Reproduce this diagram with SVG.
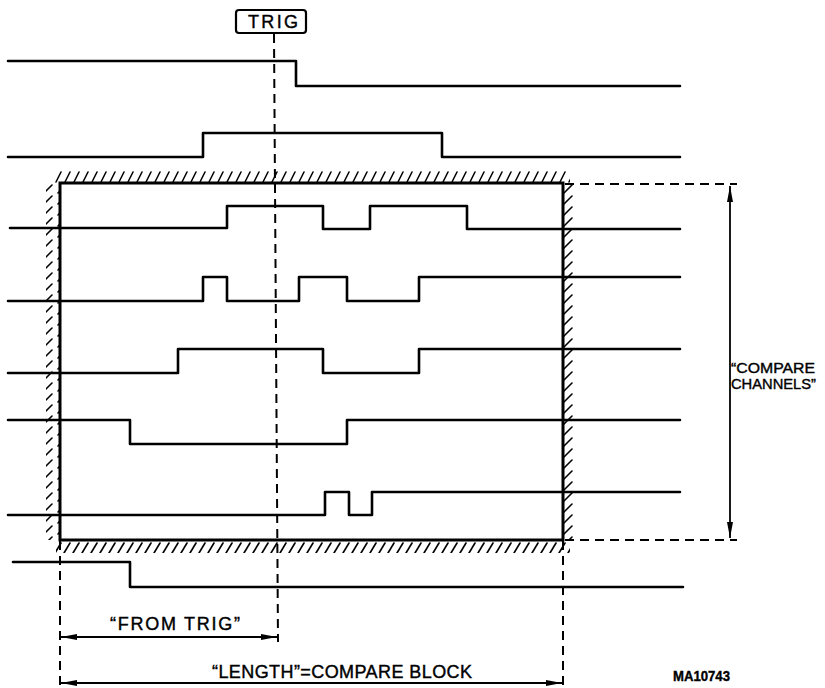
<svg xmlns="http://www.w3.org/2000/svg" width="825" height="688" viewBox="0 0 825 688">
<style>
.wave{fill:none;stroke:#000;stroke-width:2.6;stroke-linejoin:round;stroke-linecap:round}
.dash{fill:none;stroke:#000;stroke-width:2;stroke-dasharray:9 6}
.dim{fill:none;stroke:#000;stroke-width:1.8}
.lbl{font-family:"Liberation Sans",Arial,sans-serif;fill:#000;stroke:#000;stroke-width:0.4}
.hatch{stroke:#000;stroke-width:1.6;fill:none;stroke-linecap:round}
</style>
<defs>
<marker id="arr" viewBox="0 0 16 8" refX="16" refY="4" markerWidth="16" markerHeight="8" markerUnits="userSpaceOnUse" orient="auto-start-reverse">
<path d="M0,1 L16,4 L0,7 Z" fill="#000"/>
</marker>
<pattern id="hatchH" patternUnits="userSpaceOnUse" x="0" y="170" width="9" height="13">
<path class="hatch" d="M2,12 L7,2"/>
</pattern>
<pattern id="hatchHb" patternUnits="userSpaceOnUse" x="0" y="541" width="9" height="13">
<path class="hatch" d="M1,12 L7,2"/>
</pattern>
<pattern id="hatchV" patternUnits="userSpaceOnUse" x="0" y="183" width="14" height="11">
<path class="hatch" d="M2,10 L10,2"/>
</pattern>
<pattern id="hatchVr" patternUnits="userSpaceOnUse" x="562" y="183" width="14" height="11">
<path class="hatch" d="M2,10 L10,2"/>
</pattern>
</defs>
<rect width="825" height="688" fill="#fff"/>

<g id="compare-block">
<rect x="54" y="170" width="516" height="13" fill="url(#hatchH)"/>
<rect x="56" y="541" width="514" height="12" fill="url(#hatchHb)"/>
<rect x="46" y="183" width="13" height="357" fill="url(#hatchV)"/>
<rect x="564" y="183" width="12" height="357" fill="url(#hatchVr)"/>
<rect x="60" y="183" width="503" height="357" fill="none" stroke="#000" stroke-width="3"/>
</g>

<g id="waveforms">
<path id="ch1" class="wave" d="M8,61 H296 V86 H680"/>
<path id="ch2" class="wave" d="M8,157 H203 V133 H442 V157 H680"/>
<path id="ch3" class="wave" d="M10,228 H227 V206 H323 V229 H370 V206 H467 V229 H680"/>
<path id="ch4" class="wave" d="M8,301 H203 V277 H227 V301 H299 V277 H347 V301 H419 V277 H680"/>
<path id="ch5" class="wave" d="M8,373 H178 V349 H323 V373 H419 V349 H680"/>
<path id="ch6" class="wave" d="M8,420 H130 V444 H347 V420 H680"/>
<path id="ch7" class="wave" d="M8,515 H325 V492 H349 V515 H372 V492 H680"/>
<path id="ch8" class="wave" d="M13,562 H130 V587 H683"/>
</g>

<g id="trig">
<rect x="236" y="10" width="70" height="23" rx="3" fill="#fff" stroke="#000" stroke-width="2.2"/>
<text class="lbl" x="248" y="28" font-size="18" textLength="50" lengthAdjust="spacing">TRIG</text>
</g>

<g id="connectors">
<line class="dash" x1="274" y1="34" x2="278" y2="642"/>
<line class="dash" x1="60" y1="541" x2="60" y2="688"/>
<line class="dash" x1="563" y1="541" x2="563" y2="688"/>
<line class="dash" x1="565" y1="184" x2="737" y2="184"/>
<line class="dash" x1="565" y1="540" x2="737" y2="540"/>
<line class="dim" x1="730" y1="186" x2="730" y2="538" marker-start="url(#arr)" marker-end="url(#arr)"/>
<line class="dim" x1="61" y1="637" x2="277" y2="637" marker-start="url(#arr)" marker-end="url(#arr)"/>
<line class="dim" x1="61" y1="683" x2="562" y2="683" marker-start="url(#arr)" marker-end="url(#arr)"/>
</g>

<g id="labels">
<text class="lbl" x="110" y="630" font-size="18" textLength="130" lengthAdjust="spacing">“FROM TRIG”</text>
<text class="lbl" x="212" y="678" font-size="18" textLength="260" lengthAdjust="spacing">“LENGTH”=COMPARE BLOCK</text>
<text class="lbl" x="731" y="373" font-size="15" textLength="84" lengthAdjust="spacingAndGlyphs">“COMPARE</text>
<text class="lbl" x="731" y="389" font-size="15" textLength="85" lengthAdjust="spacingAndGlyphs">CHANNELS”</text>
<text class="lbl" x="673" y="681" font-size="15" font-weight="bold" textLength="57" lengthAdjust="spacingAndGlyphs">MA10743</text>
</g>
</svg>
